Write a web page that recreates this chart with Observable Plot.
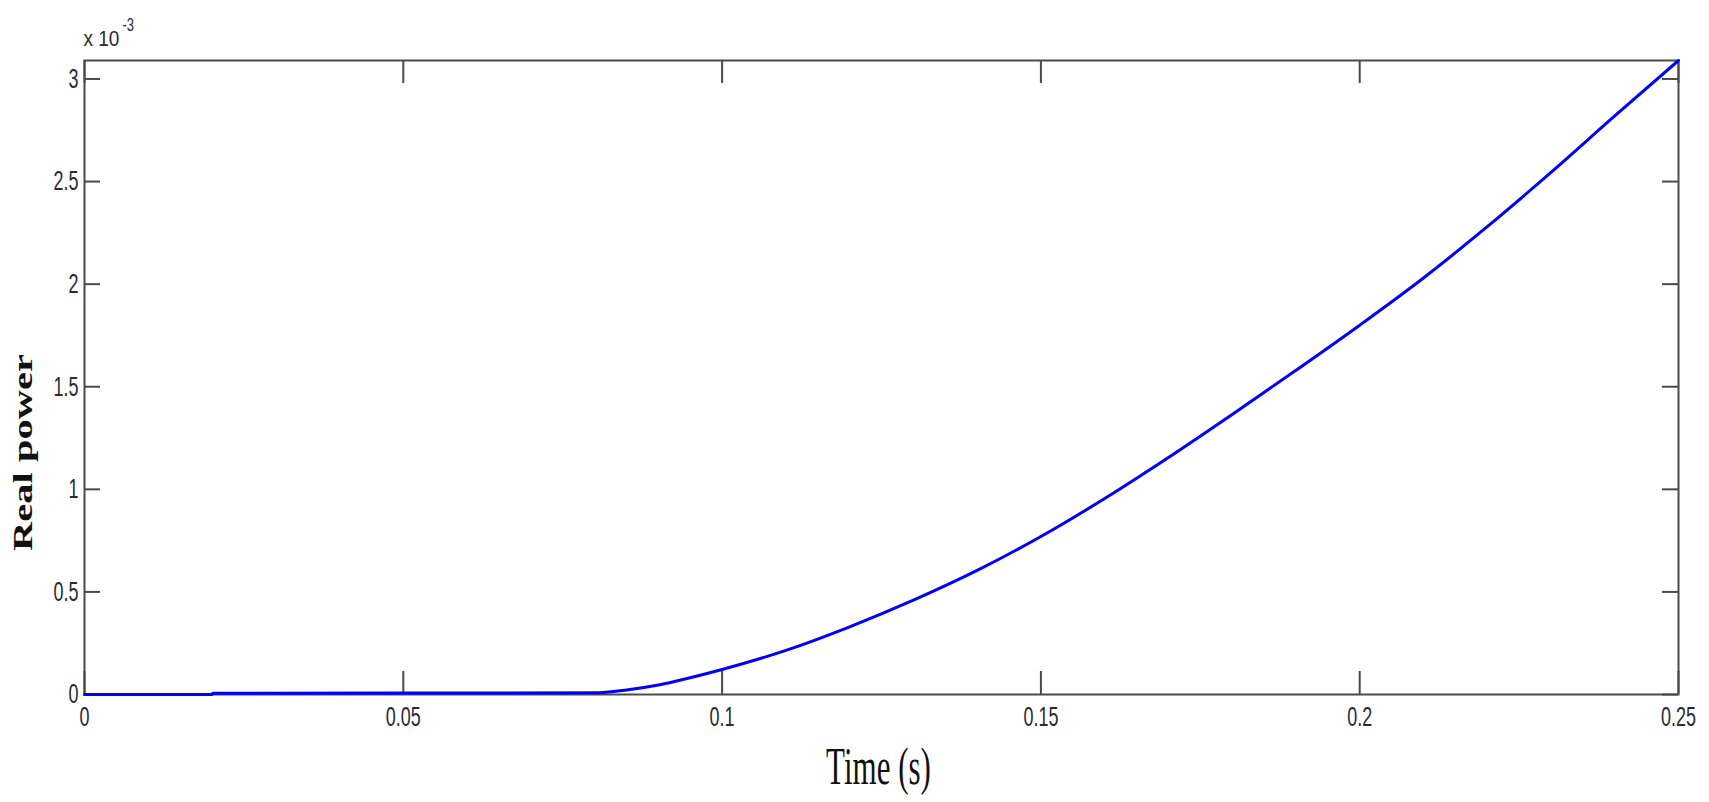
<!DOCTYPE html>
<html>
<head>
<meta charset="utf-8">
<script src="https://cdn.jsdelivr.net/npm/d3@7"></script>
<script src="https://cdn.jsdelivr.net/npm/@observablehq/plot@0.6"></script>
<style>
  html, body { margin: 0; padding: 0; background: #fff; }
  #chart svg { display: block; }
</style>
</head>
<body>
<div id="chart"></div>
<script>
// Time (s)
const time = [0, 0.02, 0.0201, 0.08, 0.085, 0.09, 0.095, 0.1, 0.11, 0.12, 0.13, 0.14, 0.15, 0.16, 0.17, 0.18, 0.19, 0.2, 0.21, 0.22, 0.23, 0.24, 0.25];
// Real power (x 10^-3)
const power = [0, 0, 0.006, 0.008, 0.022, 0.046, 0.082, 0.122, 0.215, 0.33, 0.46, 0.605, 0.77, 0.955, 1.155, 1.365, 1.58, 1.80, 2.03, 2.28, 2.545, 2.82, 3.09];
const xTicks = [0, 0.05, 0.1, 0.15, 0.2, 0.25];
const xTickLabels = ["0", "0.05", "0.1", "0.15", "0.2", "0.25"];
const yTicks = [0, 0.5, 1, 1.5, 2, 2.5, 3];
const yTickLabels = ["0", "0.5", "1", "1.5", "2", "2.5", "3"];
const xLabel = "Time (s)";
const yLabel = "Real power";
const exponentBase = "x 10";
const exponentPower = "-3";

const data = time.map((t, i) => ({t, p: power[i]}));

const W = 1709, H = 802;
const mL = 84, mR = 31, mT = 60, mB = 108;
const innerW = W - mL - mR, innerH = H - mT - mB;
const axisColor = "#4a4a4a";
const textColor = "#2a2a35";

const chart = Plot.plot({
  width: W,
  height: H,
  marginLeft: mL,
  marginRight: mR,
  marginTop: mT,
  marginBottom: mB,
  style: {background: "#fff"},
  x: {domain: [0, 0.25], axis: null},
  y: {domain: [0, 3.09], axis: null},
  marks: [
    Plot.frame({stroke: axisColor, strokeWidth: 2}),
    // inward ticks on all four sides
    Plot.tickX(xTicks, {x: d => d, stroke: axisColor, strokeWidth: 2, insetTop: innerH - 23}),
    Plot.tickX(xTicks, {x: d => d, stroke: axisColor, strokeWidth: 2, insetBottom: innerH - 23}),
    Plot.tickY(yTicks, {y: d => d, stroke: axisColor, strokeWidth: 2, insetRight: innerW - 16}),
    Plot.tickY(yTicks, {y: d => d, stroke: axisColor, strokeWidth: 2, insetLeft: innerW - 16}),
    // data
    Plot.line(data, {x: "t", y: "p", stroke: "#0000ff", strokeWidth: 3, curve: "monotone-x"}),
    // tick labels
    Plot.text(xTicks, {x: d => d, text: (d, i) => xTickLabels[i], frameAnchor: "bottom", lineAnchor: "top", dy: 12,
      fontSize: 18, fontFamily: "Liberation Sans, Arial, sans-serif", fill: textColor, className: "stretch-v"}),
    Plot.text(yTicks, {y: d => d, text: (d, i) => yTickLabels[i], frameAnchor: "left", textAnchor: "end", lineAnchor: "middle", dx: -6,
      fontSize: 18, fontFamily: "Liberation Sans, Arial, sans-serif", fill: textColor, className: "stretch-v"}),
    // exponent
    Plot.text([exponentBase], {frameAnchor: "top-left", textAnchor: "start", lineAnchor: "bottom", dx: -1, dy: -15,
      fontSize: 19, fontFamily: "Liberation Sans, Arial, sans-serif", fill: textColor, className: "stretch-exp"}),
    Plot.text([exponentPower], {frameAnchor: "top-left", textAnchor: "start", lineAnchor: "bottom", dx: 38, dy: -30,
      fontSize: 13, fontFamily: "Liberation Sans, Arial, sans-serif", fill: textColor, className: "stretch-exp2"}),
    // axis labels
    Plot.text([xLabel], {frameAnchor: "bottom", lineAnchor: "bottom", dy: 89, dx: -3,
      fontSize: 31, fontFamily: "Liberation Serif, Times New Roman, serif", fill: "#111", className: "stretch-xl"}),
    Plot.text([yLabel], {frameAnchor: "left", rotate: -90, textAnchor: "middle", lineAnchor: "bottom", dx: -53, dy: 75,
      fontSize: 27, fontWeight: "bold", fontFamily: "Liberation Serif, Times New Roman, serif", fill: "#111", className: "stretch-yl"})
  ]
});

document.getElementById("chart").appendChild(chart);

function appendScale(selector, s) {
  d3.select(chart).selectAll(selector + " text").each(function() {
    const t = this.getAttribute("transform") || "";
    this.setAttribute("transform", t + " " + s);
  });
}
appendScale(".stretch-v", "scale(1,1.55)");
appendScale(".stretch-exp", "scale(1,1.12)");
appendScale(".stretch-exp2", "scale(1,1.4)");
appendScale(".stretch-xl", "scale(1,1.7)");
appendScale(".stretch-yl", "scale(1.5,1)");
</script>
</body>
</html>
